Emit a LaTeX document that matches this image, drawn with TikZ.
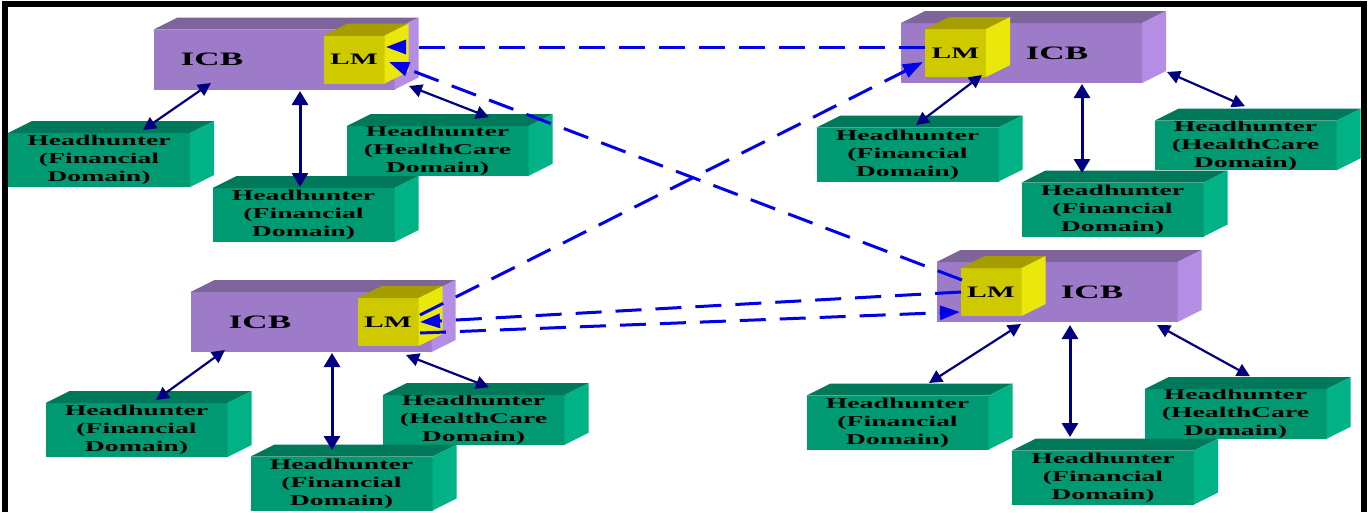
\documentclass[tikz,border=0pt]{standalone}
\usepackage{fontspec}
\usepackage{xcolor}
\usepackage{tikz}
\usetikzlibrary{arrows.meta,positioning,calc}

\newfontfamily\diafont{Liberation Serif}[FakeStretch=1.85]

\definecolor{icbfront}{RGB}{158,123,201}
\definecolor{icbtop}{RGB}{125,101,155}
\definecolor{icbside}{RGB}{180,142,228}
\definecolor{lmfront}{RGB}{207,201,0}
\definecolor{lmtop}{RGB}{166,158,0}
\definecolor{lmside}{RGB}{234,232,10}
\definecolor{hhfront}{RGB}{0,154,114}
\definecolor{hhtop}{RGB}{0,120,90}
\definecolor{hhside}{RGB}{0,178,134}
\definecolor{hunavy}{RGB}{0,0,128}
\definecolor{lmblue}{RGB}{0,0,235}

% top and side face of a box node
\newcommand{\boxfaces}[3]{%
  \fill[#2] (#1.north west) -- ++(24,-12) -- ($(#1.north east)+(24,-12)$) -- (#1.north east) -- cycle;
  \fill[#3] (#1.north east) -- ++(24,-12) -- ($(#1.south east)+(24,-12)$) -- (#1.south east) -- cycle;
}

\begin{document}
\begin{tikzpicture}[
  x=1pt, y=-1pt,
  icb/.style={rectangle, inner sep=0pt, outer sep=0pt, fill=icbfront,
    minimum width=241pt, minimum height=60pt},
  icbtext/.style={inner sep=0pt, font=\diafont\bfseries\fontsize{19}{22}\selectfont},
  lm/.style={rectangle, inner sep=0pt, outer sep=0pt, fill=lmfront,
    minimum width=61pt, minimum height=48pt,
    font=\diafont\bfseries\fontsize{16}{18}\selectfont},
  hh/.style={rectangle, inner sep=0pt, outer sep=0pt, fill=hhfront, align=center,
    minimum width=182pt, minimum height=54pt,
    font=\diafont\bfseries\fontsize{15}{18}\selectfont},
  hhc/.style={hh, minimum height=48pt},
  link/.style={{Triangle[length=13pt,width=13pt]}-{Triangle[length=13pt,width=13pt]},
    line width=2.2pt, hunavy},
  linkv/.style={{Triangle[length=14pt,width=16pt]}-{Triangle[length=14pt,width=16pt]},
    line width=3pt, hunavy},
  lmarr/.style={-{Triangle[length=20pt,width=14pt]}, line width=3pt, lmblue,
    dash pattern=on 26pt off 14pt}
]
\useasboundingbox (0,0) rectangle (1369,512);
\fill[white] (0,0) rectangle (1369,512);

% top left group
\node[hhc] (hhTL3) at (437.5,151) {Headhunter\\(HealthCare\\Domain)};
\boxfaces{hhTL3}{hhtop}{hhside}
\node[hh] (hhTL1) at (99,160) {Headhunter\\(Financial\\Domain)};
\boxfaces{hhTL1}{hhtop}{hhside}
\node[hh] (hhTL2) at (303.5,215) {Headhunter\\(Financial\\Domain)};
\boxfaces{hhTL2}{hhtop}{hhside}
\node[icb, label={[icbtext, xshift=-62pt]center:ICB}] (icbTL) at (274,59.5) {};
\boxfaces{icbTL}{icbtop}{icbside}
\node[lm, anchor=east] (lmTL) at ([xshift=-10pt]icbTL.east) {LM};
\boxfaces{lmTL}{lmtop}{lmside}

% top right group
\node[hhc] (hhTR3) at (1245.5,145.5) {Headhunter\\(HealthCare\\Domain)};
\boxfaces{hhTR3}{hhtop}{hhside}
\node[hh] (hhTR1) at (907.5,154.5) {Headhunter\\(Financial\\Domain)};
\boxfaces{hhTR1}{hhtop}{hhside}
\node[hh] (hhTR2) at (1112.5,209.5) {Headhunter\\(Financial\\Domain)};
\boxfaces{hhTR2}{hhtop}{hhside}
\node[icb, label={[icbtext, xshift=35.5pt]center:ICB}] (icbTR) at (1021.5,53) {};
\boxfaces{icbTR}{icbtop}{icbside}
\node[lm, anchor=west] (lmTR) at ([xshift=24pt]icbTR.west) {LM};
\boxfaces{lmTR}{lmtop}{lmside}

% bottom left group
\node[hhc] (hhBL3) at (473.5,420) {Headhunter\\(HealthCare\\Domain)};
\boxfaces{hhBL3}{hhtop}{hhside}
\node[hh] (hhBL1) at (136.5,430) {Headhunter\\(Financial\\Domain)};
\boxfaces{hhBL1}{hhtop}{hhside}
\node[hh] (hhBL2) at (341.5,483.5) {Headhunter\\(Financial\\Domain)};
\boxfaces{hhBL2}{hhtop}{hhside}
\node[icb, label={[icbtext, xshift=-51pt]center:ICB}] (icbBL) at (311,322) {};
\boxfaces{icbBL}{icbtop}{icbside}
\node[lm, anchor=east] (lmBL) at ([xshift=-13pt]icbBL.east) {LM};
\boxfaces{lmBL}{lmtop}{lmside}

% bottom right group
\node[hhc] (hhBR3) at (1235.5,414) {Headhunter\\(HealthCare\\Domain)};
\boxfaces{hhBR3}{hhtop}{hhside}
\node[hh] (hhBR1) at (897.5,422.5) {Headhunter\\(Financial\\Domain)};
\boxfaces{hhBR1}{hhtop}{hhside}
\node[hh] (hhBR2) at (1103,477.5) {Headhunter\\(Financial\\Domain)};
\boxfaces{hhBR2}{hhtop}{hhside}
\node[icb, label={[icbtext, xshift=35pt]center:ICB}] (icbBR) at (1057,292) {};
\boxfaces{icbBR}{icbtop}{icbside}
\node[lm, anchor=west] (lmBR) at ([xshift=24pt]icbBR.west) {LM};
\boxfaces{lmBR}{lmtop}{lmside}

% ICB <-> headhunters
\draw[link] ($(icbTL.south)+(-63,-6.5)$) -- ($(hhTL1.north)+(44,-3)$);
\draw[linkv] ($(icbTL.south)+(26,1.5)$) -- ($(hhTL2.north)+(-3.5,-1)$);
\draw[link] ($(icbTL.south east)+(14.5,-3.5)$) -- ($(hhTL3.north)+(51.5,-9)$);

\draw[link] ($(icbTR.south)+(-39.5,-8)$) -- ($(hhTR1.north)+(8.5,-2.5)$);
\draw[linkv] ($(icbTR.south)+(60.5,1)$) -- ($(hhTR2.north)+(-30.5,-9.5)$);
\draw[link] ($(icbTR.south east)+(25,-11)$) -- ($(hhTR3.north)+(-0.5,-14.5)$);

\draw[link] ($(icbBL.south)+(-86,-2)$) -- ($(hhBL1.north)+(19.5,-3)$);
\draw[linkv] ($(icbBL.south)+(21,1)$) -- ($(hhBL2.north)+(-9.5,-6.5)$);
\draw[link] ($(icbBL.south)+(95,3)$) -- ($(hhBL3.north)+(15.5,-8)$);

\draw[link] ($(icbBR.south)+(-36,2)$) -- ($(hhBR1.north)+(31.5,-12.5)$);
\draw[linkv] ($(icbBR.south)+(13,3)$) -- ($(hhBR2.north)+(-33,-13.5)$);
\draw[link] ($(icbBR.south)+(100,3)$) -- ($(hhBR3.north)+(14.5,-13)$);

% LM <-> LM
\draw[lmarr] ($(lmTR.west)+(0,-6)$) -- ($(lmTL.east)+(1.5,-12.5)$);
\draw[lmarr] ($(lmBR.west)+(1.5,-12)$) -- ($(lmTL.east)+(4.5,2.5)$);
\draw[lmarr] ($(lmBL.east)+(1.5,-7)$) -- ($(lmTR.west)+(-2,9)$);
\draw[lmarr] ($(lmBR.west)+(0.5,0)$) -- ($(lmBL.east)+(1.5,0)$);
\draw[lmarr] ($(lmBL.east)+(1.5,11)$) -- ($(lmBR.west)+(-0.5,20)$);

% frame
\draw[line width=6pt, line join=miter] (5,512) |- (1364,4) -- (1364,512);
\end{tikzpicture}
\end{document}
